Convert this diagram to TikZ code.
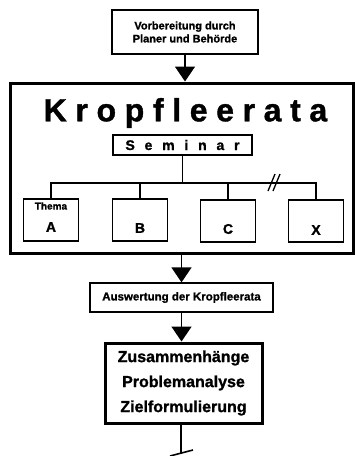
\documentclass[tikz,border=0pt]{standalone}
\usepackage{fontspec}
\setmainfont{Liberation Sans}[BoldFeatures={FakeBold=1.2}]
\newfontfamily\spacedbig{Liberation Sans}[LetterSpace=27,BoldFeatures={FakeBold=1.2}]
\newfontfamily\spacedsem{Liberation Sans}[LetterSpace=70,BoldFeatures={FakeBold=1.2}]
\usepackage{tikz}
\usetikzlibrary{arrows.meta}

\begin{document}
\begin{tikzpicture}[x=1pt,y=-1pt,font=\bfseries]
			\tikzstyle{box}=[draw,line width=1.3pt,inner sep=0pt,align=center]
			\tikzstyle{frame}=[draw,line width=3pt,inner sep=0pt]
			\tikzstyle{thema}=[draw,line width=1.3pt,inner sep=0pt,minimum width=55pt,minimum height=42pt]
			\tikzstyle{letter}=[inner sep=0pt,font=\bfseries\fontsize{14}{16}\selectfont]
			\tikzstyle{conn}=[line width=1.3pt]
			\tikzstyle{flow}=[line width=1.6pt,-{Triangle[width=20pt,length=15pt]}]
			
			\useasboundingbox (0,0) rectangle (355,456);
			
			\node [box,minimum width=146pt,minimum height=44pt,font=\bfseries\fontsize{11}{13}\selectfont] (plan) at (185,32) {Vorbereitung durch\\Planer und Behörde};
			\node [frame,minimum width=343pt,minimum height=170pt] (krop) at (181.5,168) {};
			\node [inner sep=0pt,font=\bfseries\spacedbig\fontsize{32}{36}\selectfont] (titel) at (185.5,113) {Kropfleerata};
			\node [box,minimum width=139pt,minimum height=20pt,font=\bfseries\spacedsem\fontsize{14}{15}\selectfont] (sem) at (182.5,145) {Seminar};
			
			\node [thema] (ta) at (51,220) {};
			\node [thema] (tb) at (140,220) {};
			\node [thema] (tc) at (228,221) {};
			\node [thema] (tx) at (316,221) {};
			\node [inner sep=0pt,font=\bfseries\fontsize{10}{11}\selectfont] (tthema) at (51,206) {Thema};
			\node [letter] (la) at (51,227) {A};
			\node [letter] (lb) at (140,228) {B};
			\node [letter] (lc) at (228,229) {C};
			\node [letter] (lx) at (316,230) {X};
			
			\coordinate (bar) at (182.5,183);
			\draw [conn] (sem.south) -- (bar);
			\draw [conn] (ta.north) |- (bar) -| (tx.north);
			\draw [conn] (tb.north) -- (tb.north |- bar);
			\draw [conn] (tc.north) -- (tc.north |- bar);
			\coordinate (sa1) at (268,191);
			\coordinate (sa2) at (275,174);
			\coordinate (sb1) at (273,191);
			\coordinate (sb2) at (280,174);
			\draw [conn] (sa1) -- (sa2);
			\draw [conn] (sb1) -- (sb2);
			
			\node [box,minimum width=183pt,minimum height=29pt,font=\bfseries\fontsize{11.5}{13}\selectfont] (ausw) at (181.5,297.5) {Auswertung der Kropfleerata};
			\node [box,line width=3pt,minimum width=157pt,minimum height=80pt,font=\bfseries\fontsize{16}{25}\selectfont] (ziel) at (183.5,383) {Zusammenhänge\\Problemanalyse\\Zielformulierung};
			
			\draw [flow] (plan.south) -- (plan.south |- krop.north);
			\draw [flow] (ausw.north |- krop.south) -- (ausw.north);
			\draw [flow] (ausw.south) -- (ausw.south |- ziel.north);
			
			\coordinate (ende) at (181,453);
			\coordinate (stubl) at (170,456);
			\coordinate (stubr) at (193,450);
			\draw [line width=1.6pt] (ziel.south -| ende) -- (ende);
			\draw [line width=1.6pt] (stubl) -- (stubr);
\end{tikzpicture}
\end{document}
